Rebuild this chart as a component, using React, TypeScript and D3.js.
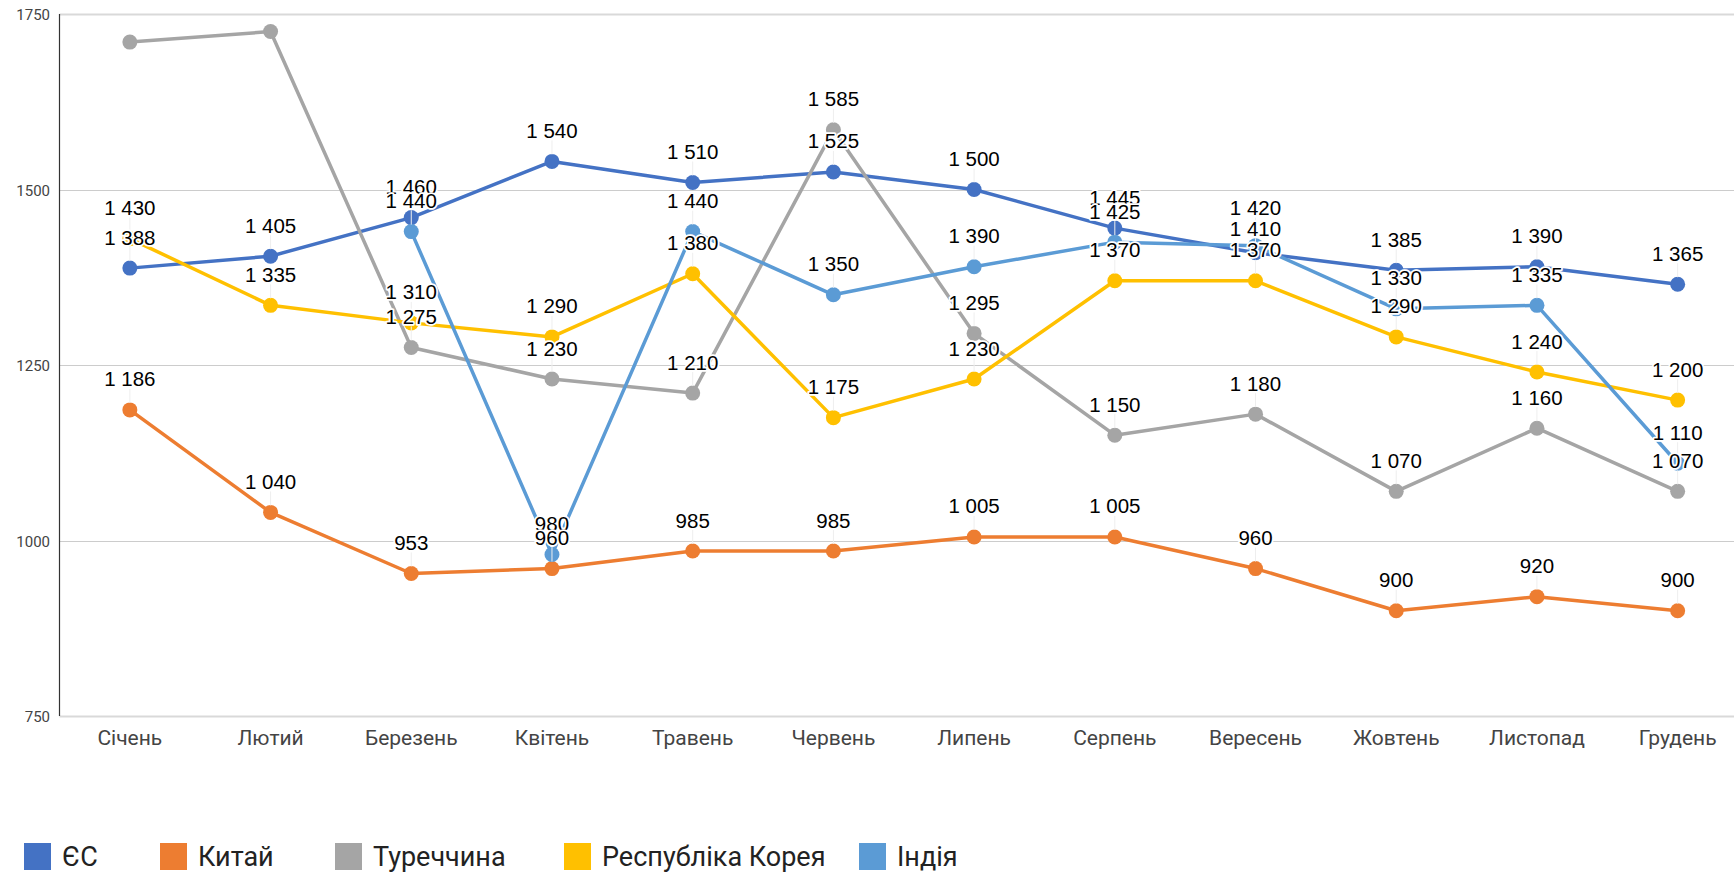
import React, { useEffect, useRef } from 'react';
import * as d3 from 'd3';

const months = ['Січень', 'Лютий', 'Березень', 'Квітень', 'Травень', 'Червень', 'Липень', 'Серпень', 'Вересень', 'Жовтень', 'Листопад', 'Грудень'];

const eu = [1388, 1405, 1460, 1540, 1510, 1525, 1500, 1445, 1410, 1385, 1390, 1365];
const china = [1186, 1040, 953, 960, 985, 985, 1005, 1005, 960, 900, 920, 900];
const turkey = [1710, 1725, 1275, 1230, 1210, 1585, 1295, 1150, 1180, 1070, 1160, 1070];
const korea = [1430, 1335, 1310, 1290, 1380, 1175, 1230, 1370, 1370, 1290, 1240, 1200];
const india: (number | null)[] = [null, null, 1440, 980, 1440, 1350, 1390, 1425, 1420, 1330, 1335, 1110];

const yTicks = [750, 1000, 1250, 1500, 1750];

const series = [
  { name: 'ЄС', color: '#4472C4', values: eu },
  { name: 'Китай', color: '#ED7D31', values: china },
  { name: 'Туреччина', color: '#A5A5A5', values: turkey },
  { name: 'Республіка Корея', color: '#FFC000', values: korea },
  { name: 'Індія', color: '#5B9BD5', values: india },
];

const W = 1734;
const H = 872;
// legend swatch positions, as laid out in the original
const legendX = [24, 160, 335, 564, 859];

export default function App() {
  const svgRef = useRef<SVGSVGElement>(null);

  useEffect(() => {
    document.body.style.margin = '0';
    if (!svgRef.current) return;
    const svg = d3.select(svgRef.current);
    svg.selectAll('*').remove();

    const left = 59.5;
    const top = 14;
    const bottom = 716;

    const x = d3.scalePoint<string>().domain(months).range([left, 1748]).padding(0.5);
    const y = d3.scaleLinear().domain([750, 1750]).range([bottom, top]);

    // gridlines
    svg.append('g')
      .selectAll('line')
      .data(yTicks)
      .join('line')
      .attr('x1', left)
      .attr('x2', 1748)
      .attr('y1', d => Math.round(y(d)) + 0.5)
      .attr('y2', d => Math.round(y(d)) + 0.5)
      .attr('stroke', d => (d === 1750 || d === 750 ? '#d9d9d9' : '#cccccc'))
      .attr('stroke-width', d => (d === 1750 || d === 750 ? 2 : 1));

    // y tick labels
    svg.append('g')
      .selectAll('text')
      .data(yTicks)
      .join('text')
      .attr('x', 50)
      .attr('y', d => y(d) + 1)
      .attr('text-anchor', 'end')
      .attr('dominant-baseline', 'central')
      .attr('font-family', 'Roboto, sans-serif')
      .attr('font-size', 15)
      .attr('fill', '#444')
      .text(d => d);

    // y axis line
    svg.append('line')
      .attr('x1', left).attr('x2', left)
      .attr('y1', top).attr('y2', bottom)
      .attr('stroke', '#333').attr('stroke-width', 1.2);

    // x labels
    svg.append('g')
      .selectAll('text')
      .data(months)
      .join('text')
      .attr('x', d => x(d)!)
      .attr('y', 738)
      .attr('text-anchor', 'middle')
      .attr('dominant-baseline', 'central')
      .attr('font-family', 'Roboto, sans-serif')
      .attr('font-size', 21)
      .attr('fill', '#444')
      .text(d => d);

    // lines + dots
    const line = d3.line<number | null>()
      .defined(d => d != null)
      .x((_, i) => x(months[i])!)
      .y(d => y(d as number));

    series.forEach(s => {
      svg.append('path')
        .datum(s.values)
        .attr('fill', 'none')
        .attr('stroke', s.color)
        .attr('stroke-width', 3.5)
        .attr('stroke-linejoin', 'round')
        .attr('d', line);
      svg.append('g')
        .selectAll('circle')
        .data(s.values.map((v, i) => ({ v, i })).filter(d => d.v != null))
        .join('circle')
        .attr('cx', d => x(months[d.i])!)
        .attr('cy', d => y(d.v as number))
        .attr('r', 7.5)
        .attr('fill', s.color);
    });

    // data labels, nudged apart only when nearly on top of each other
    type Lab = { i: number; v: number; py: number; ly: number };
    const labels: Lab[] = [];
    months.forEach((_, i) => {
      const group: Lab[] = [];
      series.forEach(s => {
        const v = s.values[i];
        if (v == null) return;
        const py = y(v);
        const ly = py - 31;
        if (ly < 25) return;
        group.push({ i, v, py, ly });
      });
      group.sort((a, b) => a.ly - b.ly);
      for (let k = 1; k < group.length; k++) {
        const a = group[k - 1];
        const b = group[k];
        if (b.ly - a.ly < 10) {
          const mid = (a.ly + b.ly) / 2;
          a.ly = mid - 10.5;
          b.ly = mid + 10.5;
        }
      }
      labels.push(...group);
    });

    const fmt = (v: number) => (v >= 1000 ? `${Math.floor(v / 1000)} ${String(v % 1000).padStart(3, '0')}` : String(v));

    svg.append('g')
      .selectAll('line')
      .data(labels)
      .join('line')
      .attr('x1', d => x(months[d.i])!)
      .attr('x2', d => x(months[d.i])!)
      .attr('y1', d => d.ly + 10)
      .attr('y2', d => d.py - 7)
      .attr('stroke', '#eeeeee')
      .attr('stroke-width', 1);

    svg.append('g')
      .selectAll('text')
      .data(labels)
      .join('text')
      .attr('x', d => x(months[d.i])!)
      .attr('y', d => d.ly)
      .attr('text-anchor', 'middle')
      .attr('dominant-baseline', 'central')
      .attr('font-family', '"Liberation Sans", Arial, sans-serif')
      .attr('font-size', 20.5)
      .attr('fill', '#000')
      .attr('stroke', '#fff')
      .attr('stroke-width', 3.5)
      .attr('stroke-linejoin', 'round')
      .attr('paint-order', 'stroke')
      .text(d => fmt(d.v));

    // legend
    const lg = svg.append('g')
      .selectAll('g')
      .data(series)
      .join('g')
      .attr('transform', (_, i) => `translate(${legendX[i]},0)`);
    lg.append('rect')
      .attr('y', 843)
      .attr('width', 27).attr('height', 27)
      .attr('fill', d => d.color);
    lg.append('text')
      .attr('x', 38)
      .attr('y', 857)
      .attr('dominant-baseline', 'central')
      .attr('font-family', 'Roboto, sans-serif')
      .attr('font-size', 27)
      .attr('fill', '#222')
      .text(d => d.name);
  }, []);

  return <svg ref={svgRef} width={W} height={H} style={{ display: 'block', background: '#fff' }} />;
}
